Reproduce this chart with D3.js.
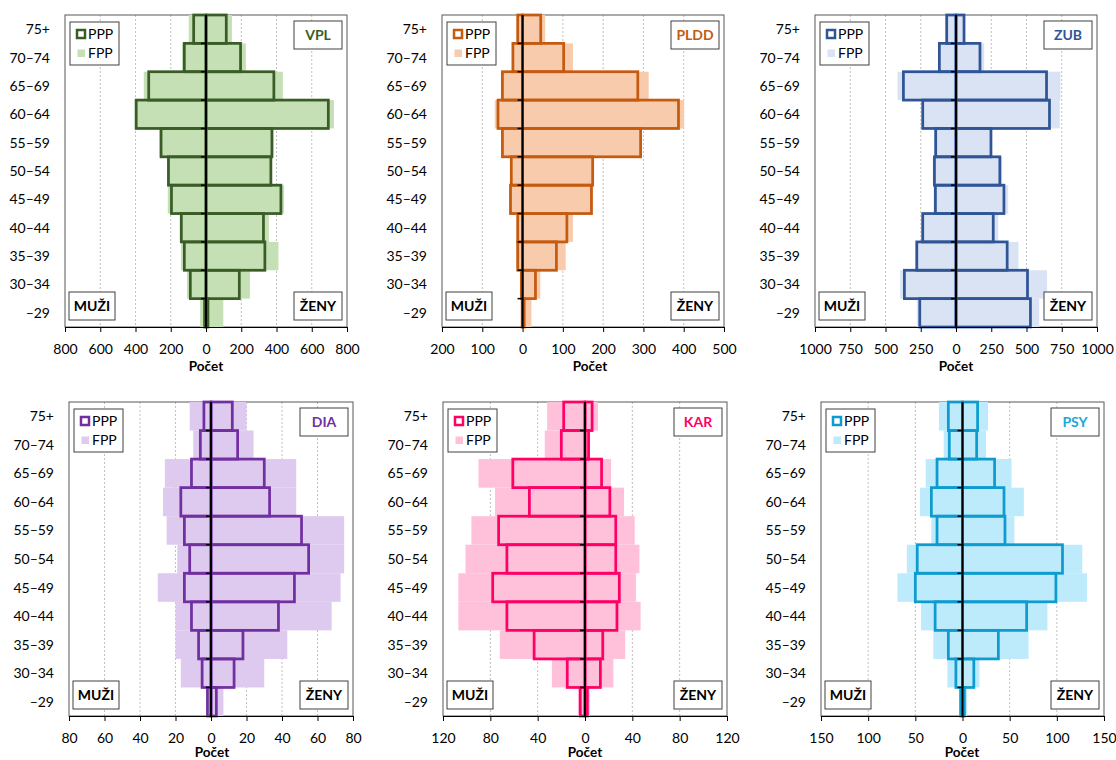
<!DOCTYPE html>
<html>
<head>
<meta charset="utf-8">
<script src="https://cdn.jsdelivr.net/npm/d3@7"></script>
<style>
  body { margin: 0; background: #fff; }
  svg { display: block; }
  text { font-family: Lato, "Open Sans", sans-serif; fill: #000; }
</style>
</head>
<body>
<svg id="chart" width="1116" height="760"></svg>
<script>
// Age groups, top to bottom
const ageGroups = ["75+", "70–74", "65–69", "60–64", "55–59", "50–54", "45–49", "40–44", "35–39", "30–34", "–29"];

// VPL
const vplPppMuzi = [70, 123, 325, 396, 255, 213, 196, 140, 123, 89, 8];
const vplPppZeny = [115, 196, 385, 694, 374, 368, 425, 326, 334, 189, 11];
const vplFppMuzi = [98, 136, 353, 405, 264, 221, 217, 149, 142, 108, 33];
const vplFppZeny = [147, 226, 436, 726, 383, 375, 443, 357, 411, 249, 98];

// PLDD
const plddPppMuzi = [12, 24, 50, 61, 50, 28, 30, 12, 12, 3, 1];
const plddPppZeny = [45, 102, 286, 387, 293, 174, 171, 110, 84, 32, 4];
const plddFppMuzi = [15, 26, 54, 69, 53, 31, 32, 15, 16, 6, 2];
const plddFppZeny = [56, 125, 313, 401, 296, 176, 174, 125, 107, 44, 22];

// ZUB
const zubPppMuzi = [66, 118, 373, 236, 144, 153, 146, 236, 278, 366, 257];
const zubPppZeny = [57, 170, 642, 663, 248, 311, 340, 264, 363, 507, 528];
const zubFppMuzi = [71, 127, 415, 240, 156, 165, 160, 248, 290, 396, 278];
const zubFppZeny = [61, 200, 741, 736, 255, 328, 370, 300, 443, 646, 590];

// DIA
const diaPppMuzi = [4, 6, 11, 17, 15, 12, 15, 11, 7, 5, 2];
const diaPppZeny = [12, 15, 30, 33, 51, 55, 47, 38, 18, 13, 3];
const diaFppMuzi = [12, 10, 26, 27, 25, 19, 30, 20, 20, 17, 2];
const diaFppZeny = [20, 24, 48, 48, 75, 75, 73, 68, 43, 30, 7];

// KAR
const karPppMuzi = [18, 20, 61, 47, 73, 66, 78, 66, 43, 15, 4];
const karPppZeny = [6, 3, 14, 21, 26, 26, 29, 27, 15, 13, 2];
const karFppMuzi = [32, 34, 90, 76, 96, 101, 107, 107, 72, 28, 6];
const karFppZeny = [11, 4, 22, 33, 42, 46, 43, 47, 34, 24, 4];

// PSY
const psyPppMuzi = [15, 14, 27, 33, 27, 48, 50, 29, 15, 7, 2];
const psyPppZeny = [16, 15, 34, 44, 45, 106, 99, 68, 38, 12, 2];
const psyFppMuzi = [25, 20, 39, 45, 33, 59, 69, 44, 31, 16, 3];
const psyFppZeny = [27, 25, 52, 65, 55, 127, 132, 90, 70, 18, 5];

// Axis ranges and tick steps
const vplTicks  = d3.range(-800, 801, 200);
const plddTicks = d3.range(-200, 501, 100);
const zubTicks  = d3.range(-1000, 1001, 250);
const diaTicks  = d3.range(-80, 81, 20);
const karTicks  = d3.range(-120, 121, 40);
const psyTicks  = d3.range(-150, 151, 50);

const panels = [
  { code: "VPL",  x: 65,  y: 15,  w: 282, h: 312, ticks: vplTicks,  line: "#3A5D27", fill: "#C5E0B4", titleCol: "#3A5D27",
    pppM: vplPppMuzi, pppF: vplPppZeny, fppM: vplFppMuzi, fppF: vplFppZeny, axisTitleX: 206, axisTitleDy: 39 },
  { code: "PLDD", x: 442, y: 15,  w: 282, h: 312, ticks: plddTicks, line: "#C55A11", fill: "#F8CBAD", titleCol: "#C55A11",
    pppM: plddPppMuzi, pppF: plddPppZeny, fppM: plddFppMuzi, fppF: plddFppZeny, axisTitleX: 590, axisTitleDy: 39 },
  { code: "ZUB",  x: 815, y: 15,  w: 282, h: 312, ticks: zubTicks,  line: "#2F5597", fill: "#DAE3F3", titleCol: "#2F5597",
    pppM: zubPppMuzi, pppF: zubPppZeny, fppM: zubFppMuzi, fppF: zubFppZeny, axisTitleX: 956, axisTitleDy: 39 },
  { code: "DIA",  x: 69,  y: 402, w: 284, h: 314, ticks: diaTicks,  line: "#7030A0", fill: "#DEC9EF", titleCol: "#7030A0",
    pppM: diaPppMuzi, pppF: diaPppZeny, fppM: diaFppMuzi, fppF: diaFppZeny, axisTitleX: 212, axisTitleDy: 36 },
  { code: "KAR",  x: 443, y: 402, w: 284, h: 314, ticks: karTicks,  line: "#FF0066", fill: "#FFC0DA", titleCol: "#FF0066",
    pppM: karPppMuzi, pppF: karPppZeny, fppM: karFppMuzi, fppF: karFppZeny, axisTitleX: 585, axisTitleDy: 36 },
  { code: "PSY",  x: 821, y: 402, w: 283, h: 314, ticks: psyTicks,  line: "#0E9BCF", fill: "#BDEBFB", titleCol: "#1BA7DB",
    pppM: psyPppMuzi, pppF: psyPppZeny, fppM: psyFppMuzi, fppF: psyFppZeny, axisTitleX: 962, axisTitleDy: 36 }
];

const svg = d3.select("#chart");

function textBox(g, bx, by, bw, bh, label, color) {
  g.append("rect")
    .attr("x", bx).attr("y", by).attr("width", bw).attr("height", bh)
    .attr("fill", "#fff").attr("stroke", "#404040").attr("stroke-width", 1);
  g.append("text")
    .attr("x", bx + bw / 2).attr("y", by + bh / 2)
    .attr("dy", "0.36em")
    .attr("text-anchor", "middle")
    .attr("font-size", 14).attr("font-weight", 700)
    .style("fill", color)
    .text(label);
}

panels.forEach(p => {
  const g = svg.append("g").attr("class", "panel-" + p.code);
  const lo = p.ticks[0], hi = p.ticks[p.ticks.length - 1];
  const x = d3.scaleLinear().domain([lo, hi]).range([p.x, p.x + p.w]);
  const y = d3.scaleBand().domain(ageGroups).range([p.y, p.y + p.h]).padding(0);
  const x0 = x(0);

  // dotted vertical gridlines
  g.append("g").selectAll("line")
    .data(p.ticks.filter(t => t !== lo && t !== hi && t !== 0))
    .join("line")
    .attr("x1", d => x(d)).attr("x2", d => x(d))
    .attr("y1", p.y).attr("y2", p.y + p.h)
    .attr("stroke", "#BFBFBF").attr("stroke-width", 1)
    .attr("stroke-dasharray", "2,2");

  // plot area border
  g.append("rect")
    .attr("x", p.x).attr("y", p.y).attr("width", p.w).attr("height", p.h)
    .attr("fill", "none").attr("stroke", "#595959").attr("stroke-width", 1);

  const rows = ageGroups.map((a, i) => ({
    age: a, pppM: p.pppM[i], pppF: p.pppF[i], fppM: p.fppM[i], fppF: p.fppF[i]
  }));

  // FPP: filled bars (men to the left, women to the right)
  const fpp = g.append("g");
  fpp.selectAll("rect.m").data(rows).join("rect").attr("class", "m")
    .attr("x", d => x(-d.fppM)).attr("width", d => x0 - x(-d.fppM))
    .attr("y", d => y(d.age)).attr("height", y.bandwidth())
    .attr("fill", p.fill);
  fpp.selectAll("rect.f").data(rows).join("rect").attr("class", "f")
    .attr("x", x0).attr("width", d => x(d.fppF) - x0)
    .attr("y", d => y(d.age)).attr("height", y.bandwidth())
    .attr("fill", p.fill);

  // PPP: outlined bars
  const ppp = g.append("g");
  ppp.selectAll("rect.m").data(rows).join("rect").attr("class", "m")
    .attr("x", d => x(-d.pppM)).attr("width", d => x0 - x(-d.pppM))
    .attr("y", d => y(d.age)).attr("height", y.bandwidth())
    .attr("fill", "none").attr("stroke", p.line).attr("stroke-width", 2.75);
  ppp.selectAll("rect.f").data(rows).join("rect").attr("class", "f")
    .attr("x", x0).attr("width", d => x(d.pppF) - x0)
    .attr("y", d => y(d.age)).attr("height", y.bandwidth())
    .attr("fill", "none").attr("stroke", p.line).attr("stroke-width", 2.75);

  // bottom value axis
  const xAxis = d3.axisBottom(x)
    .tickValues(p.ticks)
    .tickFormat(d => Math.abs(d))
    .tickSize(5).tickSizeOuter(0).tickPadding(12);
  const ax = g.append("g").attr("transform", `translate(0,${p.y + p.h})`).call(xAxis);
  ax.select(".domain").attr("stroke", "#000").attr("stroke-width", 1);
  ax.selectAll(".tick line").attr("stroke", "#000");
  ax.selectAll(".tick text").attr("font-size", 14).attr("font-family", "Lato, 'Open Sans', sans-serif").style("fill", "#000");

  // axis title
  g.append("text")
    .attr("x", p.axisTitleX).attr("y", p.y + p.h + p.axisTitleDy)
    .attr("dy", "0.36em")
    .attr("text-anchor", "middle")
    .attr("font-size", 13.5).attr("font-weight", 700)
    .text("Počet");

  // category axis through zero
  g.append("line")
    .attr("x1", x0).attr("x2", x0).attr("y1", p.y).attr("y2", p.y + p.h)
    .attr("stroke", "#000").attr("stroke-width", 2);
  const bounds = ageGroups.slice(1).map(a => y(a));
  g.append("g").selectAll("line").data(bounds).join("line")
    .attr("x1", x0 - 5).attr("x2", x0 + 1)
    .attr("y1", d => d).attr("y2", d => d)
    .attr("stroke", "#000").attr("stroke-width", 1.5);

  // category labels at the left edge
  g.append("g").selectAll("text").data(ageGroups).join("text")
    .attr("x", p.x - 15)
    .attr("y", d => y(d) + y.bandwidth() / 2)
    .attr("dy", "0.36em")
    .attr("text-anchor", "end")
    .attr("font-size", 14)
    .text(d => d);

  // legend
  const lx = p.x + 5, ly = p.y + 7;
  g.append("rect")
    .attr("x", lx).attr("y", ly).attr("width", 49).attr("height", 43)
    .attr("fill", "#fff").attr("stroke", "#404040").attr("stroke-width", 1);
  g.append("rect")
    .attr("x", lx + 7).attr("y", ly + 8).attr("width", 8).attr("height", 8)
    .attr("fill", "#fff").attr("stroke", p.line).attr("stroke-width", 2.5);
  g.append("text")
    .attr("x", lx + 18).attr("y", ly + 12).attr("dy", "0.36em")
    .attr("font-size", 14).text("PPP");
  g.append("rect")
    .attr("x", lx + 7.5).attr("y", ly + 27.5).attr("width", 7.5).attr("height", 7.5)
    .attr("fill", p.fill);
  g.append("text")
    .attr("x", lx + 18).attr("y", ly + 31).attr("dy", "0.36em")
    .attr("font-size", 14).text("FPP");

  // panel title, sex labels
  textBox(g, p.x + p.w - 5 - 48, p.y + 6, 48, 28, p.code, p.titleCol);
  textBox(g, p.x + 4, p.y + p.h - 7 - 28, 46, 28, "MUŽI", "#000");
  textBox(g, p.x + p.w - 5 - 48, p.y + p.h - 7 - 28, 48, 28, "ŽENY", "#000");
});
</script>
</body>
</html>
